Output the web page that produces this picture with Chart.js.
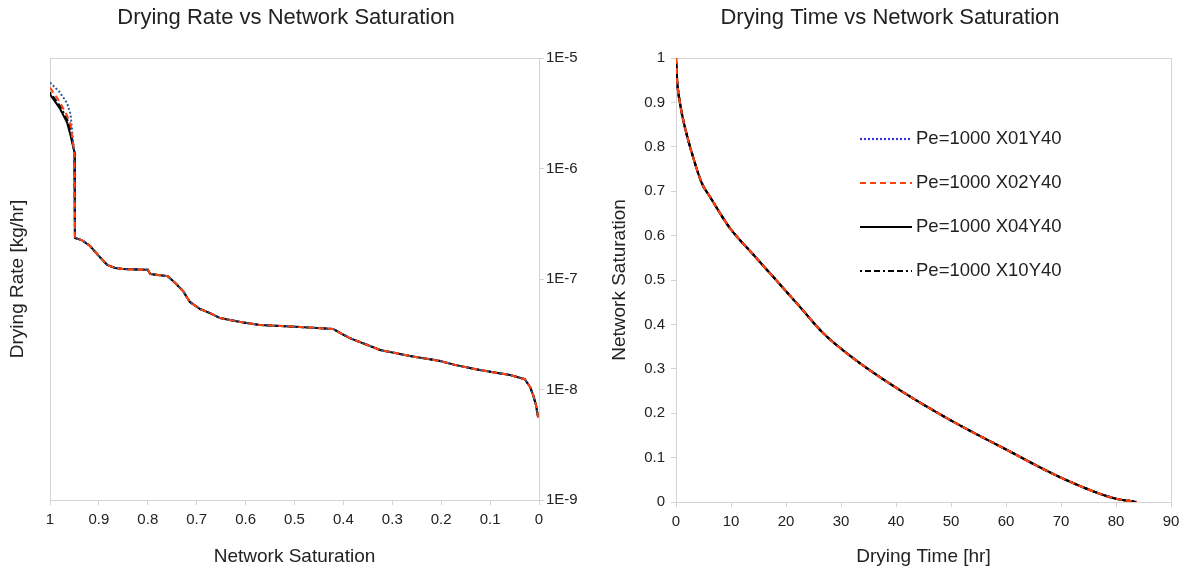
<!DOCTYPE html>
<html>
<head>
<meta charset="utf-8">
<script src="https://cdn.jsdelivr.net/npm/chart.js@4/dist/chart.umd.min.js"></script>
<style>
  body { margin: 0; background: #fff; }
  .row { display: flex; width: 1190px; height: 572px; }
  canvas { display: block; }
</style>
</head>
<body>
<div class="row">
  <canvas id="rateChart" width="595" height="572"></canvas>
  <canvas id="timeChart" width="595" height="572"></canvas>
</div>
<script>
// drying rate [kg/hr] vs network saturation, first few points differ per run
var headSat = [1, 0.98, 0.965, 0.958, 0.953, 0.950];
var headX01 = [6.0e-6, 4.9e-6, 3.9e-6, 3.1e-6, 1.8e-6, 1.4e-6];
var headX02 = [5.4e-6, 4.0e-6, 3.0e-6, 2.5e-6, 1.7e-6, 1.4e-6];
var headX04 = [4.7e-6, 3.5e-6, 2.6e-6, 2.0e-6, 1.6e-6, 1.4e-6];
var headX10 = [4.9e-6, 3.7e-6, 2.8e-6, 2.2e-6, 1.65e-6, 1.4e-6];

// after the first drop all runs sit on the same curve
var tailSat = [0.949, 0.935, 0.918, 0.902, 0.883, 0.867, 0.851, 0.800, 0.795, 0.759,
  0.744, 0.728, 0.714, 0.693, 0.673, 0.652, 0.611, 0.571, 0.489, 0.421,
  0.407, 0.387, 0.356, 0.325, 0.264, 0.202, 0.172, 0.121, 0.059, 0.029,
  0.018, 0.012, 0.006, 0.002];
var tailRate = [2.35e-7, 2.25e-7, 1.99e-7, 1.65e-7, 1.34e-7, 1.26e-7, 1.23e-7, 1.21e-7, 1.11e-7, 1.06e-7,
  9.2e-8, 7.8e-8, 6.2e-8, 5.35e-8, 4.92e-8, 4.43e-8, 4.08e-8, 3.84e-8, 3.68e-8, 3.53e-8,
  3.25e-8, 2.92e-8, 2.58e-8, 2.28e-8, 2.01e-8, 1.81e-8, 1.67e-8, 1.50e-8, 1.35e-8, 1.24e-8,
  1.05e-8, 8.9e-9, 7.2e-9, 5.6e-9];

var rateTicks = [1e-9, 1e-8, 1e-7, 1e-6, 1e-5];
var rateTickLabels = ['1E-9', '1E-8', '1E-7', '1E-6', '1E-5'];

// network saturation vs drying time [hr]
var dryTime = [0, 0.2, 0.7, 1.6, 3.1, 4.7, 6.2, 9.8, 14, 18.4, 22.5, 26.7, 32.2, 40.7, 49.8, 60.2, 69.8, 79.5, 83.8];
var drySat  = [1, 0.95, 0.9, 0.845, 0.777, 0.718, 0.687, 0.617, 0.558, 0.497, 0.44, 0.381, 0.324, 0.252, 0.185, 0.117, 0.056, 0.009, 0];

var runLabels = ['Pe=1000 X01Y40', 'Pe=1000 X02Y40', 'Pe=1000 X04Y40', 'Pe=1000 X10Y40'];

var FONT = 'Liberation Sans, Arial, sans-serif';
var TEXT = '#222';
var GRID = '#d4d4d4';

function pts(xs, ys) {
	var out = [];
	for (var i = 0; i < xs.length; i++) out.push({x: xs[i], y: ys[i]});
	return out;
}

// 1, 0.9 ... 0 without the trailing ".0"
function plainNum(v) {
	return String(Math.round(v * 10) / 10);
}

// line styles per run: colour, dash, drawing order (lower = on top)
function runStyles(blue, blueOrder) {
	return [
		{borderColor: blue, borderDash: [2, 2], order: blueOrder},
		{borderColor: '#ff420e', borderDash: [6, 4], order: 0},
		{borderColor: '#000000', borderDash: [], order: 2},
		{borderColor: '#000000', borderDash: [2, 3, 6, 3, 6, 3], order: 1.5}
	];
}

// light frame round the plot area
var frame = {
	id: 'frame',
	beforeDatasetsDraw: function(chart) {
		var a = chart.chartArea, ctx = chart.ctx;
		ctx.save();
		ctx.strokeStyle = GRID;
		ctx.lineWidth = 1;
		ctx.strokeRect(Math.round(a.left) + 0.5, Math.round(a.top) + 0.5,
			Math.round(a.right - a.left), Math.round(a.bottom - a.top));
		ctx.restore();
	}
};

// chart heading, centred on a given x
var heading = {
	id: 'heading',
	afterDraw: function(chart, args, opts) {
		var ctx = chart.ctx;
		ctx.save();
		ctx.font = '22px ' + FONT;
		ctx.fillStyle = TEXT;
		ctx.textAlign = 'center';
		ctx.textBaseline = 'middle';
		ctx.fillText(opts.text, opts.x, 18);
		ctx.restore();
	}
};

// legend drawn inside the plot area
var innerLegend = {
	id: 'innerLegend',
	afterDraw: function(chart) {
		var ctx = chart.ctx;
		var x0 = 265, x1 = 317, y0 = 139, dy = 44;
		ctx.save();
		ctx.font = '18.5px ' + FONT;
		ctx.textBaseline = 'middle';
		chart.data.datasets.forEach(function(ds, i) {
			var y = y0 + i * dy;
			ctx.beginPath();
			ctx.strokeStyle = ds.borderColor;
			ctx.lineWidth = ds.borderWidth;
			ctx.setLineDash(ds.borderDash);
			ctx.moveTo(x0, y);
			ctx.lineTo(x1, y);
			ctx.stroke();
			ctx.setLineDash([]);
			ctx.fillStyle = TEXT;
			ctx.fillText(ds.label, x1 + 4, y);
		});
		ctx.restore();
	}
};

function tickFont() { return {family: FONT, size: 15}; }
function titleFont() { return {family: FONT, size: 19}; }

// --- left: drying rate ---
var leftStyles = runStyles('#2f5d9c', 1);
var leftRuns = [headX01, headX02, headX04, headX10].map(function(head, i) {
	return Object.assign({
		label: runLabels[i],
		data: pts(headSat.concat(tailSat), head.concat(tailRate)),
		borderWidth: 2,
		pointRadius: 0,
		tension: 0,
		fill: false
	}, leftStyles[i]);
});

new Chart(document.getElementById('rateChart'), {
	type: 'line',
	data: {datasets: leftRuns},
	plugins: [frame, heading],
	options: {
		responsive: false,
		animation: false,
		layout: {padding: {top: 58}},
		plugins: {
			legend: {display: false},
			tooltip: {enabled: false},
			heading: {text: 'Drying Rate vs Network Saturation', x: 286}
		},
		scales: {
			x: {
				type: 'linear',
				reverse: true,
				min: 0,
				max: 1,
				ticks: {stepSize: 0.1, color: TEXT, font: tickFont(), padding: 6, maxRotation: 0, callback: plainNum},
				grid: {drawOnChartArea: false, tickLength: 5, color: GRID},
				border: {color: GRID},
				title: {display: true, text: 'Network Saturation', color: TEXT, font: titleFont(), padding: {top: 4, bottom: 4}},
				afterFit: function(s) { s.height = 72; }
			},
			y: {
				type: 'logarithmic',
				position: 'right',
				min: 1e-9,
				max: 1e-5,
				afterBuildTicks: function(s) {
					s.ticks = rateTicks.map(function(v) { return {value: v}; });
				},
				ticks: {
					color: TEXT,
					font: tickFont(),
					padding: 2,
					callback: function(v, i) { return rateTickLabels[i]; }
				},
				grid: {drawOnChartArea: false, tickLength: 5, color: GRID},
				border: {color: GRID},
				afterFit: function(s) { s.width = 56; }
			},
			yName: {
				type: 'linear',
				axis: 'y',
				position: 'left',
				ticks: {display: false},
				grid: {display: false},
				border: {display: false},
				title: {display: true, text: 'Drying Rate [kg/hr]', color: TEXT, font: titleFont(), padding: {top: 6.6, bottom: 0}},
				afterFit: function(s) { s.width = 50; }
			}
		}
	}
});

// --- right: drying time ---
var rightStyles = runStyles('#3333ee', 3);
var rightRuns = runLabels.map(function(lbl, i) {
	return Object.assign({
		label: lbl,
		data: pts(dryTime, drySat),
		borderWidth: 2.2,
		pointRadius: 0,
		cubicInterpolationMode: 'monotone',
		fill: false
	}, rightStyles[i]);
});

new Chart(document.getElementById('timeChart'), {
	type: 'line',
	data: {datasets: rightRuns},
	plugins: [frame, heading, innerLegend],
	options: {
		responsive: false,
		animation: false,
		layout: {padding: {top: 58}},
		plugins: {
			legend: {display: false},
			tooltip: {enabled: false},
			heading: {text: 'Drying Time vs Network Saturation', x: 295}
		},
		scales: {
			x: {
				type: 'linear',
				min: 0,
				max: 90,
				ticks: {stepSize: 10, color: TEXT, font: tickFont(), padding: 6, maxRotation: 0},
				grid: {drawOnChartArea: false, tickLength: 5, color: GRID},
				border: {color: GRID},
				title: {display: true, text: 'Drying Time [hr]', color: TEXT, font: titleFont(), padding: {top: 4, bottom: 4}},
				afterFit: function(s) { s.height = 70; }
			},
			y: {
				type: 'linear',
				min: 0,
				max: 1,
				ticks: {stepSize: 0.1, color: TEXT, font: tickFont(), padding: 6, callback: plainNum},
				grid: {drawOnChartArea: false, tickLength: 5, color: GRID},
				border: {color: GRID},
				title: {display: true, text: 'Network Saturation', color: TEXT, font: titleFont(), padding: {top: 13.6, bottom: 0}},
				afterFit: function(s) { s.width = 81; }
			},
			yPad: {
				type: 'linear',
				axis: 'y',
				position: 'right',
				ticks: {display: false},
				grid: {display: false},
				border: {display: false},
				afterFit: function(s) { s.width = 19; }
			}
		}
	}
});
</script>
</body>
</html>
